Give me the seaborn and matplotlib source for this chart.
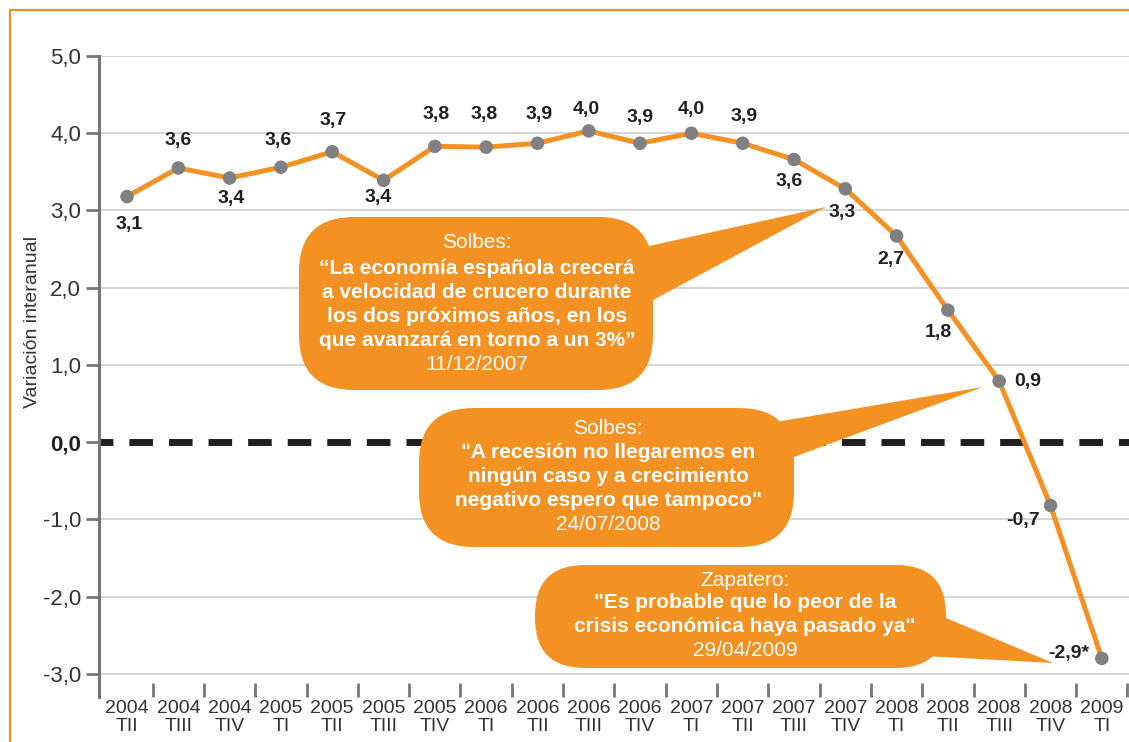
import numpy as np
import pandas as pd
import matplotlib
matplotlib.use("Agg")
import matplotlib.pyplot as plt
import seaborn as sns
from matplotlib.patches import FancyBboxPatch, Polygon
from matplotlib.lines import Line2D
from matplotlib.transforms import Affine2D

sns.set_theme(style="white")
plt.rcParams["font.family"] = ["Liberation Sans", "DejaVu Sans"]

# -------- datos --------
trimestres = ["2004\nTII", "2004\nTIII", "2004\nTIV", "2005\nTI", "2005\nTII",
              "2005\nTIII", "2005\nTIV", "2006\nTI", "2006\nTII", "2006\nTIII",
              "2006\nTIV", "2007\nTI", "2007\nTII", "2007\nTIII", "2007\nTIV",
              "2008\nTI", "2008\nTII", "2008\nTIII", "2008\nTIV", "2009\nTI"]
valores = [3.18, 3.55, 3.42, 3.56, 3.76, 3.39, 3.83, 3.82, 3.87, 4.03,
           3.87, 4.00, 3.87, 3.66, 3.28, 2.67, 1.71, 0.79, -0.82, -2.80]
etiquetas = ["3,1", "3,6", "3,4", "3,6", "3,7", "3,4", "3,8", "3,8", "3,9", "4,0",
             "3,9", "4,0", "3,9", "3,6", "3,3", "2,7", "1,8", "0,9", "-0,7", "-2,9*"]
yticks = [-3, -2, -1, 0, 1, 2, 3, 4, 5]
ytick_labels = ["-3,0", "-2,0", "-1,0", "0,0", "1,0", "2,0", "3,0", "4,0", "5,0"]

# label offsets from point, in pixels (dx right, dy down)
offsets = [(2, 28), (0, -27), (2, 20), (-3, -27), (1, -31), (-5, 17), (1, -32),
           (-2, -33), (2, -29), (-2, -21), (0, -26), (0, -24), (1, -27), (-5, 22),
           (-3, 24), (-6, 24), (-10, 22), (29, 0), (-27, 15), (-33, -5)]

ORANGE = "#F39123"
GREY = "#808083"
AXIS_GREY = "#77777a"
DARK = "#231f20"
W, H = 1129, 742

df = pd.DataFrame({"trimestre": trimestres, "valor": valores})

fig = plt.figure(figsize=(W / 100, H / 100), dpi=100)
ax = fig.add_axes([99 / W, 1 - 697 / H, (W - 99) / W, (697 - 56) / H])

# reference pixel coords -> figure
ref = Affine2D().scale(1 / W, -1 / H).translate(0, 1) + fig.transFigure

# grid lines (no line at zero)
for t in yticks:
    if t != 0:
        ax.axhline(t, color="#cacaca", lw=1.1, zorder=1)
ax.axhline(0, color=DARK, lw=5, linestyle=(1.4, (3.4, 2.3)),
           solid_capstyle="butt", dash_capstyle="butt", zorder=2)

sns.lineplot(data=df, x="trimestre", y="valor", sort=False, color=ORANGE,
             lw=3.6, ax=ax, zorder=4)
sns.scatterplot(data=df, x="trimestre", y="valor", color=GREY, s=95,
                edgecolor="none", ax=ax, zorder=5)

for i, (lab, (dx, dy)) in enumerate(zip(etiquetas, offsets)):
    ax.annotate(lab, (i, valores[i]), xytext=(dx * 0.72, -dy * 0.72),
                textcoords="offset points", ha="center", va="center",
                fontsize=14, fontweight="bold", color=DARK, zorder=6)

# -------- bocadillos --------
bubbles = [
    dict(box=(299, 217, 653, 390), r=55,
         tail=[(640, 248), (826, 207), (653, 300), (600, 300), (600, 248)],
         cx=477,
         lines=[("Solbes:", "normal", 243),
                ("\u201cLa economía española crecerá", "bold", 268),
                ("a velocidad de crucero durante", "bold", 292),
                ("los dos próximos años, en los", "bold", 316),
                ("que avanzará en torno a un 3%\u201d", "bold", 340),
                ("11/12/2007", "normal", 364)]),
    dict(box=(419, 408, 794, 547), r=55,
         tail=[(770, 423), (983, 387), (794, 457), (740, 457), (740, 423)],
         cx=608,
         lines=[("Solbes:", "normal", 428),
                ('"A recesión no llegaremos en', "bold", 453),
                ("ningún caso y a crecimiento", "bold", 477),
                ('negativo espero que tampoco"', "bold", 501),
                ("24/07/2008", "normal", 525)]),
    dict(box=(535, 565, 946, 668), r=50,
         tail=[(946, 618), (1053, 663), (925, 656), (900, 656), (900, 618)],
         cx=745,
         lines=[("Zapatero:", "normal", 580),
                ('"Es probable que lo peor de la', "bold", 603),
                ('crisis económica haya pasado ya"', "bold", 627),
                ("29/04/2009", "normal", 651)]),
]

for b in bubbles:
    x0, y0, x1, y1 = b["box"]
    body = FancyBboxPatch((x0, y0), x1 - x0, y1 - y0,
                          boxstyle=f"round,pad=0,rounding_size={b['r']}",
                          transform=ref, facecolor=ORANGE, edgecolor="none",
                          zorder=3, clip_on=False)
    tail = Polygon(b["tail"], closed=True, transform=ref, facecolor=ORANGE,
                   edgecolor="none", zorder=3, clip_on=False)
    ax.add_patch(body)
    ax.add_patch(tail)
    for txt, wt, yy in b["lines"]:
        ax.text(b["cx"], yy, txt, transform=ref, ha="center", va="center",
                color="white", fontsize=15, fontweight=wt, zorder=3.5)

# -------- ejes --------
ax.set_xlim(-0.546, 19.53)
ax.set_ylim(-3.3, 5)
ax.set_xlabel("")
ax.set_ylabel("")
for s in ["top", "right", "bottom"]:
    ax.spines[s].set_visible(False)
ax.spines["left"].set_color(AXIS_GREY)
ax.spines["left"].set_linewidth(2.2)

ax.set_yticks(yticks)
ax.set_yticklabels(ytick_labels)
ax.tick_params(axis="y", left=True, length=9.4, width=2, color=AXIS_GREY,
               pad=3.6, labelsize=16, labelcolor="#333333")
for t in ax.get_yticklabels():
    if t.get_text() == "0,0":
        t.set_fontweight("bold")
        t.set_color(DARK)

ax.set_xticks(range(len(trimestres)))
ax.set_xticklabels(trimestres, fontsize=14, linespacing=1.1, color="#333333")
ax.set_xticks(np.arange(len(trimestres)) + 0.5, minor=True)
ax.tick_params(axis="x", which="major", bottom=True, length=0, pad=2)
ax.tick_params(axis="x", which="minor", bottom=True, direction="in",
               length=10, width=2, color=AXIS_GREY)

fig.text(33 / W, 1 - 322 / H, "Variación interanual", rotation=90,
         ha="center", va="center", fontsize=14, color="#333333")

# orange frame
fig.add_artist(Line2D([10 / W, 10 / W], [0, 1 - 10 / H], color=ORANGE, lw=1.6))
fig.add_artist(Line2D([10 / W, 1], [1 - 10 / H, 1 - 10 / H], color=ORANGE, lw=1.6))

fig.savefig("out.png", dpi=100)
